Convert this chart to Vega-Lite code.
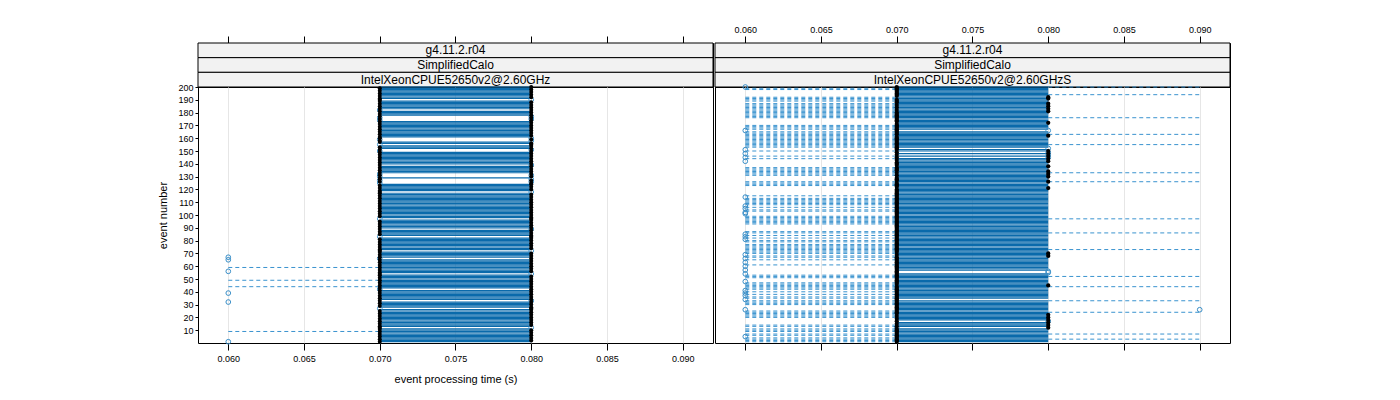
{
"$schema": "https://vega.github.io/schema/vega-lite/v6.json",
"padding": {"left": 157, "top": 24, "right": 5, "bottom": 5},
"background": "white",
"spacing": 0,
"datasets": {
"strA": [{"lev":1,"t":"g4.11.2.r04"},{"lev":2,"t":"SimplifiedCalo"},{"lev":3,"t":"IntelXeonCPUE52650v2@2.60GHz"}],
"strB": [{"lev":1,"t":"g4.11.2.r04"},{"lev":2,"t":"SimplifiedCalo"},{"lev":3,"t":"IntelXeonCPUE52650v2@2.60GHzS"}],
"a": [
{"e":1,"lo":0.07,"q1":0.07,"md":0.07,"q3":0.08,"hi":0.08,"o":0.06},
{"e":2,"lo":0.07,"q1":0.07,"md":0.08,"q3":0.08,"hi":0.08},
{"e":3,"lo":0.07,"q1":0.07,"md":0.07,"q3":0.08,"hi":0.08},
{"e":4,"lo":0.07,"q1":0.07,"md":0.08,"q3":0.08,"hi":0.08},
{"e":5,"lo":0.07,"q1":0.07,"md":0.07,"q3":0.08,"hi":0.08},
{"e":6,"lo":0.07,"q1":0.07,"md":0.08,"q3":0.08,"hi":0.08},
{"e":7,"lo":0.07,"q1":0.07,"md":0.07,"q3":0.08,"hi":0.08},
{"e":8,"lo":0.07,"q1":0.07,"md":0.08,"q3":0.08,"hi":0.08},
{"e":9,"lo":0.06,"q1":0.07,"md":0.07,"q3":0.08,"hi":0.08},
{"e":10,"lo":0.07,"q1":0.07,"md":0.08,"q3":0.08,"hi":0.08},
{"e":11,"lo":0.07,"q1":0.07,"md":0.07,"q3":0.08,"hi":0.08},
{"e":12,"lo":0.07,"q1":0.07,"md":0.07,"q3":0.07,"hi":0.07,"o":0.08},
{"e":13,"lo":0.07,"q1":0.07,"md":0.07,"q3":0.08,"hi":0.08},
{"e":14,"lo":0.07,"q1":0.07,"md":0.08,"q3":0.08,"hi":0.08},
{"e":15,"lo":0.07,"q1":0.07,"md":0.07,"q3":0.08,"hi":0.08},
{"e":16,"lo":0.07,"q1":0.07,"md":0.08,"q3":0.08,"hi":0.08},
{"e":17,"lo":0.07,"q1":0.07,"md":0.07,"q3":0.08,"hi":0.08},
{"e":18,"lo":0.07,"q1":0.07,"md":0.08,"q3":0.08,"hi":0.08},
{"e":19,"lo":0.07,"q1":0.07,"md":0.07,"q3":0.08,"hi":0.08},
{"e":20,"lo":0.07,"q1":0.07,"md":0.08,"q3":0.08,"hi":0.08},
{"e":21,"lo":0.07,"q1":0.07,"md":0.07,"q3":0.08,"hi":0.08},
{"e":22,"lo":0.07,"q1":0.07,"md":0.08,"q3":0.08,"hi":0.08},
{"e":23,"lo":0.07,"q1":0.07,"md":0.07,"q3":0.08,"hi":0.08},
{"e":24,"lo":0.07,"q1":0.07,"md":0.08,"q3":0.08,"hi":0.08},
{"e":25,"lo":0.07,"q1":0.07,"md":0.07,"q3":0.08,"hi":0.08},
{"e":26,"lo":0.07,"q1":0.07,"md":0.08,"q3":0.08,"hi":0.08},
{"e":27,"lo":0.08,"q1":0.08,"md":0.08,"q3":0.08,"hi":0.08,"o":0.07},
{"e":28,"lo":0.07,"q1":0.07,"md":0.08,"q3":0.08,"hi":0.08},
{"e":29,"lo":0.07,"q1":0.07,"md":0.07,"q3":0.08,"hi":0.08},
{"e":30,"lo":0.07,"q1":0.07,"md":0.08,"q3":0.08,"hi":0.08},
{"e":31,"lo":0.07,"q1":0.07,"md":0.07,"q3":0.08,"hi":0.08},
{"e":32,"lo":0.07,"q1":0.07,"md":0.08,"q3":0.08,"hi":0.08,"o":0.06},
{"e":33,"lo":0.07,"q1":0.07,"md":0.07,"q3":0.07,"hi":0.07,"o":0.08},
{"e":34,"lo":0.07,"q1":0.07,"md":0.08,"q3":0.08,"hi":0.08},
{"e":35,"lo":0.07,"q1":0.07,"md":0.07,"q3":0.08,"hi":0.08},
{"e":36,"lo":0.07,"q1":0.07,"md":0.08,"q3":0.08,"hi":0.08},
{"e":37,"lo":0.07,"q1":0.07,"md":0.07,"q3":0.08,"hi":0.08},
{"e":38,"lo":0.07,"q1":0.07,"md":0.08,"q3":0.08,"hi":0.08},
{"e":39,"lo":0.07,"q1":0.07,"md":0.07,"q3":0.08,"hi":0.08,"o":0.06},
{"e":40,"lo":0.07,"q1":0.07,"md":0.08,"q3":0.08,"hi":0.08},
{"e":41,"lo":0.07,"q1":0.07,"md":0.07,"q3":0.08,"hi":0.08},
{"e":42,"lo":0.08,"q1":0.08,"md":0.08,"q3":0.08,"hi":0.08,"o":0.07},
{"e":43,"lo":0.07,"q1":0.07,"md":0.07,"q3":0.08,"hi":0.08},
{"e":44,"lo":0.06,"q1":0.07,"md":0.08,"q3":0.08,"hi":0.08},
{"e":45,"lo":0.07,"q1":0.07,"md":0.07,"q3":0.08,"hi":0.08},
{"e":46,"lo":0.07,"q1":0.07,"md":0.08,"q3":0.08,"hi":0.08},
{"e":47,"lo":0.07,"q1":0.07,"md":0.07,"q3":0.08,"hi":0.08},
{"e":48,"lo":0.07,"q1":0.07,"md":0.08,"q3":0.08,"hi":0.08},
{"e":49,"lo":0.06,"q1":0.07,"md":0.07,"q3":0.08,"hi":0.08},
{"e":50,"lo":0.07,"q1":0.07,"md":0.08,"q3":0.08,"hi":0.08},
{"e":51,"lo":0.07,"q1":0.07,"md":0.07,"q3":0.08,"hi":0.08},
{"e":52,"lo":0.07,"q1":0.07,"md":0.08,"q3":0.08,"hi":0.08},
{"e":53,"lo":0.07,"q1":0.07,"md":0.07,"q3":0.08,"hi":0.08},
{"e":54,"lo":0.07,"q1":0.07,"md":0.07,"q3":0.07,"hi":0.07,"o":0.08},
{"e":55,"lo":0.07,"q1":0.07,"md":0.07,"q3":0.08,"hi":0.08},
{"e":56,"lo":0.07,"q1":0.07,"md":0.08,"q3":0.08,"hi":0.08,"o":0.06},
{"e":57,"lo":0.07,"q1":0.07,"md":0.07,"q3":0.08,"hi":0.08},
{"e":58,"lo":0.07,"q1":0.07,"md":0.08,"q3":0.08,"hi":0.08},
{"e":59,"lo":0.06,"q1":0.07,"md":0.07,"q3":0.08,"hi":0.08},
{"e":60,"lo":0.07,"q1":0.07,"md":0.08,"q3":0.08,"hi":0.08},
{"e":61,"lo":0.07,"q1":0.07,"md":0.07,"q3":0.08,"hi":0.08},
{"e":62,"lo":0.07,"q1":0.07,"md":0.08,"q3":0.08,"hi":0.08},
{"e":63,"lo":0.07,"q1":0.07,"md":0.07,"q3":0.08,"hi":0.08},
{"e":64,"lo":0.07,"q1":0.07,"md":0.08,"q3":0.08,"hi":0.08},
{"e":65,"lo":0.07,"q1":0.07,"md":0.07,"q3":0.08,"hi":0.08,"o":0.06},
{"e":66,"lo":0.08,"q1":0.08,"md":0.08,"q3":0.08,"hi":0.08,"o":0.07},
{"e":67,"lo":0.07,"q1":0.07,"md":0.07,"q3":0.08,"hi":0.08,"o":0.06},
{"e":68,"lo":0.07,"q1":0.07,"md":0.08,"q3":0.08,"hi":0.08},
{"e":69,"lo":0.07,"q1":0.07,"md":0.07,"q3":0.08,"hi":0.08},
{"e":70,"lo":0.07,"q1":0.07,"md":0.08,"q3":0.08,"hi":0.08},
{"e":71,"lo":0.07,"q1":0.07,"md":0.07,"q3":0.08,"hi":0.08},
{"e":72,"lo":0.07,"q1":0.07,"md":0.07,"q3":0.07,"hi":0.07,"o":0.08},
{"e":73,"lo":0.07,"q1":0.07,"md":0.07,"q3":0.08,"hi":0.08},
{"e":74,"lo":0.07,"q1":0.07,"md":0.08,"q3":0.08,"hi":0.08},
{"e":75,"lo":0.07,"q1":0.07,"md":0.07,"q3":0.08,"hi":0.08},
{"e":76,"lo":0.07,"q1":0.07,"md":0.08,"q3":0.08,"hi":0.08},
{"e":77,"lo":0.07,"q1":0.07,"md":0.07,"q3":0.08,"hi":0.08},
{"e":78,"lo":0.07,"q1":0.07,"md":0.08,"q3":0.08,"hi":0.08},
{"e":79,"lo":0.07,"q1":0.07,"md":0.07,"q3":0.08,"hi":0.08},
{"e":80,"lo":0.07,"q1":0.07,"md":0.08,"q3":0.08,"hi":0.08},
{"e":81,"lo":0.07,"q1":0.07,"md":0.07,"q3":0.08,"hi":0.08},
{"e":82,"lo":0.07,"q1":0.07,"md":0.08,"q3":0.08,"hi":0.08},
{"e":83,"lo":0.08,"q1":0.08,"md":0.08,"q3":0.08,"hi":0.08,"o":0.07},
{"e":84,"lo":0.07,"q1":0.07,"md":0.08,"q3":0.08,"hi":0.08},
{"e":85,"lo":0.07,"q1":0.07,"md":0.07,"q3":0.08,"hi":0.08},
{"e":86,"lo":0.07,"q1":0.07,"md":0.08,"q3":0.08,"hi":0.08},
{"e":87,"lo":0.07,"q1":0.07,"md":0.07,"q3":0.08,"hi":0.08},
{"e":88,"lo":0.07,"q1":0.07,"md":0.08,"q3":0.08,"hi":0.08},
{"e":89,"lo":0.07,"q1":0.07,"md":0.07,"q3":0.07,"hi":0.07,"o":0.08},
{"e":90,"lo":0.07,"q1":0.07,"md":0.08,"q3":0.08,"hi":0.08},
{"e":91,"lo":0.07,"q1":0.07,"md":0.07,"q3":0.08,"hi":0.08},
{"e":92,"lo":0.07,"q1":0.07,"md":0.08,"q3":0.08,"hi":0.08},
{"e":93,"lo":0.07,"q1":0.07,"md":0.07,"q3":0.08,"hi":0.08},
{"e":94,"lo":0.07,"q1":0.07,"md":0.08,"q3":0.08,"hi":0.08},
{"e":95,"lo":0.07,"q1":0.07,"md":0.07,"q3":0.08,"hi":0.08},
{"e":96,"lo":0.07,"q1":0.07,"md":0.08,"q3":0.08,"hi":0.08},
{"e":97,"lo":0.08,"q1":0.08,"md":0.08,"q3":0.08,"hi":0.08,"o":0.07},
{"e":98,"lo":0.07,"q1":0.07,"md":0.08,"q3":0.08,"hi":0.08},
{"e":99,"lo":0.07,"q1":0.07,"md":0.07,"q3":0.08,"hi":0.08},
{"e":100,"lo":0.07,"q1":0.07,"md":0.08,"q3":0.08,"hi":0.08},
{"e":101,"lo":0.07,"q1":0.07,"md":0.07,"q3":0.08,"hi":0.08},
{"e":102,"lo":0.07,"q1":0.07,"md":0.08,"q3":0.08,"hi":0.08},
{"e":103,"lo":0.07,"q1":0.07,"md":0.07,"q3":0.08,"hi":0.08},
{"e":104,"lo":0.07,"q1":0.07,"md":0.08,"q3":0.08,"hi":0.08},
{"e":105,"lo":0.07,"q1":0.07,"md":0.07,"q3":0.08,"hi":0.08},
{"e":106,"lo":0.07,"q1":0.07,"md":0.08,"q3":0.08,"hi":0.08},
{"e":107,"lo":0.07,"q1":0.07,"md":0.07,"q3":0.08,"hi":0.08},
{"e":108,"lo":0.07,"q1":0.07,"md":0.08,"q3":0.08,"hi":0.08},
{"e":109,"lo":0.07,"q1":0.07,"md":0.07,"q3":0.08,"hi":0.08},
{"e":110,"lo":0.07,"q1":0.07,"md":0.08,"q3":0.08,"hi":0.08},
{"e":111,"lo":0.07,"q1":0.07,"md":0.07,"q3":0.08,"hi":0.08},
{"e":112,"lo":0.07,"q1":0.07,"md":0.08,"q3":0.08,"hi":0.08},
{"e":113,"lo":0.07,"q1":0.07,"md":0.07,"q3":0.08,"hi":0.08},
{"e":114,"lo":0.07,"q1":0.07,"md":0.08,"q3":0.08,"hi":0.08},
{"e":115,"lo":0.07,"q1":0.07,"md":0.07,"q3":0.08,"hi":0.08},
{"e":116,"lo":0.07,"q1":0.07,"md":0.08,"q3":0.08,"hi":0.08},
{"e":117,"lo":0.07,"q1":0.07,"md":0.07,"q3":0.08,"hi":0.08},
{"e":118,"lo":0.07,"q1":0.07,"md":0.07,"q3":0.07,"hi":0.07,"o":0.08},
{"e":119,"lo":0.07,"q1":0.07,"md":0.07,"q3":0.08,"hi":0.08},
{"e":120,"lo":0.07,"q1":0.07,"md":0.08,"q3":0.08,"hi":0.08},
{"e":121,"lo":0.07,"q1":0.07,"md":0.07,"q3":0.08,"hi":0.08},
{"e":122,"lo":0.07,"q1":0.07,"md":0.08,"q3":0.08,"hi":0.08},
{"e":123,"lo":0.07,"q1":0.07,"md":0.07,"q3":0.08,"hi":0.08},
{"e":124,"lo":0.07,"q1":0.07,"md":0.08,"q3":0.08,"hi":0.08},
{"e":125,"lo":0.08,"q1":0.08,"md":0.08,"q3":0.08,"hi":0.08,"o":0.07},
{"e":126,"lo":0.07,"q1":0.07,"md":0.07,"q3":0.07,"hi":0.07,"o":0.08},
{"e":127,"lo":0.08,"q1":0.08,"md":0.08,"q3":0.08,"hi":0.08,"o":0.07},
{"e":128,"lo":0.07,"q1":0.07,"md":0.07,"q3":0.07,"hi":0.07,"o":0.08},
{"e":129,"lo":0.07,"q1":0.07,"md":0.07,"q3":0.08,"hi":0.08},
{"e":130,"lo":0.08,"q1":0.08,"md":0.08,"q3":0.08,"hi":0.08,"o":0.07},
{"e":131,"lo":0.07,"q1":0.07,"md":0.07,"q3":0.07,"hi":0.07,"o":0.08},
{"e":132,"lo":0.08,"q1":0.08,"md":0.08,"q3":0.08,"hi":0.08,"o":0.07},
{"e":133,"lo":0.07,"q1":0.07,"md":0.07,"q3":0.08,"hi":0.08},
{"e":134,"lo":0.07,"q1":0.07,"md":0.08,"q3":0.08,"hi":0.08},
{"e":135,"lo":0.07,"q1":0.07,"md":0.07,"q3":0.08,"hi":0.08},
{"e":136,"lo":0.07,"q1":0.07,"md":0.08,"q3":0.08,"hi":0.08},
{"e":137,"lo":0.07,"q1":0.07,"md":0.07,"q3":0.08,"hi":0.08},
{"e":138,"lo":0.07,"q1":0.07,"md":0.08,"q3":0.08,"hi":0.08},
{"e":139,"lo":0.07,"q1":0.07,"md":0.07,"q3":0.07,"hi":0.07,"o":0.08},
{"e":140,"lo":0.07,"q1":0.07,"md":0.08,"q3":0.08,"hi":0.08},
{"e":141,"lo":0.07,"q1":0.07,"md":0.07,"q3":0.08,"hi":0.08},
{"e":142,"lo":0.07,"q1":0.07,"md":0.08,"q3":0.08,"hi":0.08},
{"e":143,"lo":0.07,"q1":0.07,"md":0.07,"q3":0.08,"hi":0.08},
{"e":144,"lo":0.07,"q1":0.07,"md":0.08,"q3":0.08,"hi":0.08},
{"e":145,"lo":0.07,"q1":0.07,"md":0.07,"q3":0.08,"hi":0.08},
{"e":146,"lo":0.07,"q1":0.07,"md":0.08,"q3":0.08,"hi":0.08},
{"e":147,"lo":0.07,"q1":0.07,"md":0.07,"q3":0.08,"hi":0.08},
{"e":148,"lo":0.07,"q1":0.07,"md":0.08,"q3":0.08,"hi":0.08},
{"e":149,"lo":0.07,"q1":0.07,"md":0.07,"q3":0.08,"hi":0.08},
{"e":150,"lo":0.08,"q1":0.08,"md":0.08,"q3":0.08,"hi":0.08,"o":0.07},
{"e":151,"lo":0.07,"q1":0.07,"md":0.07,"q3":0.07,"hi":0.07,"o":0.08},
{"e":152,"lo":0.07,"q1":0.07,"md":0.08,"q3":0.08,"hi":0.08},
{"e":153,"lo":0.07,"q1":0.07,"md":0.07,"q3":0.08,"hi":0.08},
{"e":154,"lo":0.07,"q1":0.07,"md":0.08,"q3":0.08,"hi":0.08},
{"e":155,"lo":0.08,"q1":0.08,"md":0.08,"q3":0.08,"hi":0.08,"o":0.07},
{"e":156,"lo":0.07,"q1":0.07,"md":0.08,"q3":0.08,"hi":0.08},
{"e":157,"lo":0.07,"q1":0.07,"md":0.07,"q3":0.08,"hi":0.08},
{"e":158,"lo":0.07,"q1":0.07,"md":0.07,"q3":0.07,"hi":0.07,"o":0.08},
{"e":159,"lo":0.08,"q1":0.08,"md":0.08,"q3":0.08,"hi":0.08,"o":0.07},
{"e":160,"lo":0.07,"q1":0.07,"md":0.07,"q3":0.07,"hi":0.07,"o":0.08},
{"e":161,"lo":0.07,"q1":0.07,"md":0.07,"q3":0.08,"hi":0.08},
{"e":162,"lo":0.07,"q1":0.07,"md":0.08,"q3":0.08,"hi":0.08},
{"e":163,"lo":0.07,"q1":0.07,"md":0.07,"q3":0.08,"hi":0.08},
{"e":164,"lo":0.07,"q1":0.07,"md":0.08,"q3":0.08,"hi":0.08},
{"e":165,"lo":0.07,"q1":0.07,"md":0.07,"q3":0.08,"hi":0.08},
{"e":166,"lo":0.07,"q1":0.07,"md":0.08,"q3":0.08,"hi":0.08},
{"e":167,"lo":0.07,"q1":0.07,"md":0.07,"q3":0.08,"hi":0.08},
{"e":168,"lo":0.07,"q1":0.07,"md":0.08,"q3":0.08,"hi":0.08},
{"e":169,"lo":0.07,"q1":0.07,"md":0.07,"q3":0.08,"hi":0.08},
{"e":170,"lo":0.07,"q1":0.07,"md":0.08,"q3":0.08,"hi":0.08},
{"e":171,"lo":0.07,"q1":0.07,"md":0.07,"q3":0.08,"hi":0.08},
{"e":172,"lo":0.07,"q1":0.07,"md":0.08,"q3":0.08,"hi":0.08},
{"e":173,"lo":0.07,"q1":0.07,"md":0.07,"q3":0.08,"hi":0.08},
{"e":174,"lo":0.08,"q1":0.08,"md":0.08,"q3":0.08,"hi":0.08,"o":0.07},
{"e":175,"lo":0.07,"q1":0.07,"md":0.07,"q3":0.07,"hi":0.07,"o":0.08},
{"e":176,"lo":0.08,"q1":0.08,"md":0.08,"q3":0.08,"hi":0.08,"o":0.07},
{"e":177,"lo":0.07,"q1":0.07,"md":0.07,"q3":0.07,"hi":0.07,"o":0.08},
{"e":178,"lo":0.07,"q1":0.07,"md":0.08,"q3":0.08,"hi":0.08},
{"e":179,"lo":0.07,"q1":0.07,"md":0.07,"q3":0.08,"hi":0.08},
{"e":180,"lo":0.07,"q1":0.07,"md":0.08,"q3":0.08,"hi":0.08},
{"e":181,"lo":0.07,"q1":0.07,"md":0.07,"q3":0.08,"hi":0.08},
{"e":182,"lo":0.08,"q1":0.08,"md":0.08,"q3":0.08,"hi":0.08,"o":0.07},
{"e":183,"lo":0.07,"q1":0.07,"md":0.07,"q3":0.08,"hi":0.08},
{"e":184,"lo":0.07,"q1":0.07,"md":0.08,"q3":0.08,"hi":0.08},
{"e":185,"lo":0.07,"q1":0.07,"md":0.07,"q3":0.08,"hi":0.08},
{"e":186,"lo":0.07,"q1":0.07,"md":0.08,"q3":0.08,"hi":0.08},
{"e":187,"lo":0.07,"q1":0.07,"md":0.07,"q3":0.08,"hi":0.08},
{"e":188,"lo":0.07,"q1":0.07,"md":0.08,"q3":0.08,"hi":0.08},
{"e":189,"lo":0.07,"q1":0.07,"md":0.07,"q3":0.08,"hi":0.08},
{"e":190,"lo":0.07,"q1":0.07,"md":0.07,"q3":0.07,"hi":0.07,"o":0.08},
{"e":191,"lo":0.07,"q1":0.07,"md":0.07,"q3":0.08,"hi":0.08},
{"e":192,"lo":0.07,"q1":0.07,"md":0.08,"q3":0.08,"hi":0.08},
{"e":193,"lo":0.07,"q1":0.07,"md":0.07,"q3":0.08,"hi":0.08},
{"e":194,"lo":0.07,"q1":0.07,"md":0.08,"q3":0.08,"hi":0.08},
{"e":195,"lo":0.07,"q1":0.07,"md":0.07,"q3":0.08,"hi":0.08},
{"e":196,"lo":0.07,"q1":0.07,"md":0.08,"q3":0.08,"hi":0.08},
{"e":197,"lo":0.07,"q1":0.07,"md":0.07,"q3":0.08,"hi":0.08},
{"e":198,"lo":0.07,"q1":0.07,"md":0.08,"q3":0.08,"hi":0.08},
{"e":199,"lo":0.07,"q1":0.07,"md":0.07,"q3":0.08,"hi":0.08},
{"e":200,"lo":0.07,"q1":0.07,"md":0.08,"q3":0.08,"hi":0.08}
],
"b": [
{"e":1,"lo":0.06,"q1":0.07,"md":0.07,"q3":0.08,"hi":0.08},
{"e":2,"lo":0.06,"q1":0.07,"md":0.07,"q3":0.08,"hi":0.08},
{"e":3,"lo":0.06,"q1":0.07,"md":0.07,"q3":0.08,"hi":0.09},
{"e":4,"lo":0.06,"q1":0.07,"md":0.07,"q3":0.08,"hi":0.08},
{"e":5,"lo":0.07,"q1":0.07,"md":0.07,"q3":0.08,"hi":0.08,"o":0.06},
{"e":6,"lo":0.06,"q1":0.07,"md":0.07,"q3":0.08,"hi":0.08},
{"e":7,"lo":0.06,"q1":0.07,"md":0.07,"q3":0.08,"hi":0.09},
{"e":8,"lo":0.07,"q1":0.07,"md":0.07,"q3":0.08,"hi":0.08},
{"e":9,"lo":0.06,"q1":0.07,"md":0.07,"q3":0.08,"hi":0.08},
{"e":10,"lo":0.06,"q1":0.07,"md":0.07,"q3":0.08,"hi":0.08},
{"e":11,"lo":0.06,"q1":0.07,"md":0.07,"q3":0.08,"hi":0.08},
{"e":12,"lo":0.08,"q1":0.08,"md":0.08,"q3":0.08,"hi":0.08,"o":0.07},
{"e":13,"lo":0.06,"q1":0.07,"md":0.07,"q3":0.08,"hi":0.08},
{"e":14,"lo":0.06,"q1":0.07,"md":0.08,"q3":0.08,"hi":0.08},
{"e":15,"lo":0.07,"q1":0.07,"md":0.07,"q3":0.08,"hi":0.08},
{"e":16,"lo":0.07,"q1":0.07,"md":0.08,"q3":0.08,"hi":0.08},
{"e":17,"lo":0.07,"q1":0.07,"md":0.07,"q3":0.07,"hi":0.07,"o":0.08},
{"e":18,"lo":0.07,"q1":0.07,"md":0.08,"q3":0.08,"hi":0.08},
{"e":19,"lo":0.07,"q1":0.07,"md":0.07,"q3":0.08,"hi":0.08},
{"e":20,"lo":0.06,"q1":0.07,"md":0.08,"q3":0.08,"hi":0.08},
{"e":21,"lo":0.06,"q1":0.07,"md":0.07,"q3":0.08,"hi":0.08},
{"e":22,"lo":0.06,"q1":0.07,"md":0.08,"q3":0.08,"hi":0.08},
{"e":23,"lo":0.06,"q1":0.07,"md":0.07,"q3":0.08,"hi":0.08},
{"e":24,"lo":0.06,"q1":0.07,"md":0.07,"q3":0.08,"hi":0.09},
{"e":25,"lo":0.06,"q1":0.07,"md":0.07,"q3":0.08,"hi":0.08},
{"e":26,"lo":0.07,"q1":0.07,"md":0.07,"q3":0.08,"hi":0.08,"o":0.06,"o2":0.09},
{"e":27,"lo":0.07,"q1":0.07,"md":0.07,"q3":0.08,"hi":0.08},
{"e":28,"lo":0.07,"q1":0.07,"md":0.07,"q3":0.08,"hi":0.08},
{"e":29,"lo":0.07,"q1":0.07,"md":0.07,"q3":0.08,"hi":0.08},
{"e":30,"lo":0.06,"q1":0.07,"md":0.07,"q3":0.08,"hi":0.08},
{"e":31,"lo":0.06,"q1":0.07,"md":0.07,"q3":0.08,"hi":0.08},
{"e":32,"lo":0.06,"q1":0.07,"md":0.07,"q3":0.08,"hi":0.08},
{"e":33,"lo":0.06,"q1":0.07,"md":0.07,"q3":0.08,"hi":0.09},
{"e":34,"lo":0.07,"q1":0.07,"md":0.07,"q3":0.07,"hi":0.07,"o":0.06},
{"e":35,"lo":0.06,"q1":0.07,"md":0.07,"q3":0.08,"hi":0.08},
{"e":36,"lo":0.06,"q1":0.07,"md":0.07,"q3":0.08,"hi":0.08},
{"e":37,"lo":0.07,"q1":0.07,"md":0.07,"q3":0.08,"hi":0.08,"o":0.06},
{"e":38,"lo":0.06,"q1":0.07,"md":0.07,"q3":0.08,"hi":0.08},
{"e":39,"lo":0.07,"q1":0.07,"md":0.07,"q3":0.08,"hi":0.08,"o":0.06},
{"e":40,"lo":0.06,"q1":0.07,"md":0.07,"q3":0.08,"hi":0.08},
{"e":41,"lo":0.07,"q1":0.07,"md":0.07,"q3":0.08,"hi":0.08,"o":0.06},
{"e":42,"lo":0.06,"q1":0.07,"md":0.07,"q3":0.08,"hi":0.08},
{"e":43,"lo":0.06,"q1":0.07,"md":0.07,"q3":0.08,"hi":0.08},
{"e":44,"lo":0.06,"q1":0.07,"md":0.07,"q3":0.08,"hi":0.09},
{"e":45,"lo":0.06,"q1":0.07,"md":0.08,"q3":0.08,"hi":0.08},
{"e":46,"lo":0.06,"q1":0.07,"md":0.07,"q3":0.08,"hi":0.08},
{"e":47,"lo":0.06,"q1":0.07,"md":0.07,"q3":0.08,"hi":0.08},
{"e":48,"lo":0.07,"q1":0.07,"md":0.07,"q3":0.08,"hi":0.08,"o":0.06},
{"e":49,"lo":0.07,"q1":0.07,"md":0.07,"q3":0.08,"hi":0.08},
{"e":50,"lo":0.07,"q1":0.07,"md":0.07,"q3":0.08,"hi":0.08},
{"e":51,"lo":0.06,"q1":0.07,"md":0.07,"q3":0.08,"hi":0.08},
{"e":52,"lo":0.06,"q1":0.07,"md":0.07,"q3":0.08,"hi":0.09},
{"e":53,"lo":0.06,"q1":0.07,"md":0.07,"q3":0.08,"hi":0.08},
{"e":54,"lo":0.07,"q1":0.07,"md":0.07,"q3":0.08,"hi":0.08,"o":0.06},
{"e":55,"lo":0.07,"q1":0.07,"md":0.07,"q3":0.07,"hi":0.07,"o":0.08},
{"e":56,"lo":0.07,"q1":0.07,"md":0.07,"q3":0.07,"hi":0.07,"o":0.08},
{"e":57,"lo":0.07,"q1":0.07,"md":0.07,"q3":0.08,"hi":0.08,"o":0.06},
{"e":58,"lo":0.07,"q1":0.07,"md":0.07,"q3":0.08,"hi":0.08},
{"e":59,"lo":0.07,"q1":0.07,"md":0.07,"q3":0.08,"hi":0.08},
{"e":60,"lo":0.07,"q1":0.07,"md":0.07,"q3":0.08,"hi":0.08,"o":0.06},
{"e":61,"lo":0.06,"q1":0.07,"md":0.07,"q3":0.08,"hi":0.08},
{"e":62,"lo":0.07,"q1":0.07,"md":0.07,"q3":0.08,"hi":0.08},
{"e":63,"lo":0.07,"q1":0.07,"md":0.07,"q3":0.08,"hi":0.08,"o":0.06},
{"e":64,"lo":0.07,"q1":0.07,"md":0.07,"q3":0.08,"hi":0.08},
{"e":65,"lo":0.06,"q1":0.07,"md":0.07,"q3":0.08,"hi":0.08},
{"e":66,"lo":0.07,"q1":0.07,"md":0.07,"q3":0.08,"hi":0.08,"o":0.06},
{"e":67,"lo":0.06,"q1":0.07,"md":0.07,"q3":0.08,"hi":0.08},
{"e":68,"lo":0.06,"q1":0.07,"md":0.08,"q3":0.08,"hi":0.08},
{"e":69,"lo":0.07,"q1":0.07,"md":0.07,"q3":0.08,"hi":0.08,"o":0.06},
{"e":70,"lo":0.06,"q1":0.07,"md":0.08,"q3":0.08,"hi":0.08},
{"e":71,"lo":0.06,"q1":0.07,"md":0.07,"q3":0.08,"hi":0.08},
{"e":72,"lo":0.06,"q1":0.07,"md":0.07,"q3":0.08,"hi":0.08},
{"e":73,"lo":0.06,"q1":0.07,"md":0.07,"q3":0.08,"hi":0.09},
{"e":74,"lo":0.06,"q1":0.07,"md":0.07,"q3":0.08,"hi":0.08},
{"e":75,"lo":0.06,"q1":0.07,"md":0.07,"q3":0.08,"hi":0.08},
{"e":76,"lo":0.06,"q1":0.07,"md":0.07,"q3":0.08,"hi":0.08},
{"e":77,"lo":0.06,"q1":0.07,"md":0.07,"q3":0.08,"hi":0.08},
{"e":78,"lo":0.07,"q1":0.07,"md":0.07,"q3":0.08,"hi":0.08},
{"e":79,"lo":0.06,"q1":0.07,"md":0.07,"q3":0.08,"hi":0.08},
{"e":80,"lo":0.06,"q1":0.07,"md":0.07,"q3":0.08,"hi":0.08},
{"e":81,"lo":0.07,"q1":0.07,"md":0.07,"q3":0.08,"hi":0.08,"o":0.06},
{"e":82,"lo":0.06,"q1":0.07,"md":0.07,"q3":0.08,"hi":0.08},
{"e":83,"lo":0.07,"q1":0.07,"md":0.07,"q3":0.08,"hi":0.08,"o":0.06},
{"e":84,"lo":0.06,"q1":0.07,"md":0.07,"q3":0.08,"hi":0.08},
{"e":85,"lo":0.07,"q1":0.07,"md":0.07,"q3":0.08,"hi":0.08,"o":0.06},
{"e":86,"lo":0.06,"q1":0.07,"md":0.07,"q3":0.08,"hi":0.09},
{"e":87,"lo":0.06,"q1":0.07,"md":0.07,"q3":0.08,"hi":0.08},
{"e":88,"lo":0.07,"q1":0.07,"md":0.07,"q3":0.08,"hi":0.08},
{"e":89,"lo":0.07,"q1":0.07,"md":0.07,"q3":0.08,"hi":0.08},
{"e":90,"lo":0.07,"q1":0.07,"md":0.07,"q3":0.08,"hi":0.08},
{"e":91,"lo":0.07,"q1":0.07,"md":0.07,"q3":0.08,"hi":0.08},
{"e":92,"lo":0.07,"q1":0.07,"md":0.07,"q3":0.08,"hi":0.08},
{"e":93,"lo":0.06,"q1":0.07,"md":0.07,"q3":0.08,"hi":0.08},
{"e":94,"lo":0.06,"q1":0.07,"md":0.07,"q3":0.08,"hi":0.08},
{"e":95,"lo":0.06,"q1":0.07,"md":0.07,"q3":0.08,"hi":0.08},
{"e":96,"lo":0.06,"q1":0.07,"md":0.07,"q3":0.08,"hi":0.08},
{"e":97,"lo":0.06,"q1":0.07,"md":0.07,"q3":0.08,"hi":0.09},
{"e":98,"lo":0.06,"q1":0.07,"md":0.07,"q3":0.08,"hi":0.08},
{"e":99,"lo":0.06,"q1":0.07,"md":0.07,"q3":0.08,"hi":0.08},
{"e":100,"lo":0.07,"q1":0.07,"md":0.07,"q3":0.08,"hi":0.08},
{"e":101,"lo":0.07,"q1":0.07,"md":0.07,"q3":0.08,"hi":0.08,"o":0.06},
{"e":102,"lo":0.07,"q1":0.07,"md":0.07,"q3":0.08,"hi":0.08,"o":0.06},
{"e":103,"lo":0.06,"q1":0.07,"md":0.07,"q3":0.08,"hi":0.08},
{"e":104,"lo":0.06,"q1":0.07,"md":0.07,"q3":0.08,"hi":0.08},
{"e":105,"lo":0.07,"q1":0.07,"md":0.07,"q3":0.08,"hi":0.08,"o":0.06},
{"e":106,"lo":0.06,"q1":0.07,"md":0.07,"q3":0.08,"hi":0.08},
{"e":107,"lo":0.07,"q1":0.07,"md":0.07,"q3":0.08,"hi":0.08,"o":0.06},
{"e":108,"lo":0.06,"q1":0.07,"md":0.07,"q3":0.08,"hi":0.08},
{"e":109,"lo":0.06,"q1":0.07,"md":0.07,"q3":0.08,"hi":0.08},
{"e":110,"lo":0.06,"q1":0.07,"md":0.07,"q3":0.08,"hi":0.08},
{"e":111,"lo":0.06,"q1":0.07,"md":0.07,"q3":0.08,"hi":0.08},
{"e":112,"lo":0.06,"q1":0.07,"md":0.07,"q3":0.08,"hi":0.08},
{"e":113,"lo":0.06,"q1":0.07,"md":0.07,"q3":0.08,"hi":0.08},
{"e":114,"lo":0.07,"q1":0.07,"md":0.07,"q3":0.08,"hi":0.08,"o":0.06},
{"e":115,"lo":0.06,"q1":0.07,"md":0.07,"q3":0.08,"hi":0.08},
{"e":116,"lo":0.07,"q1":0.07,"md":0.07,"q3":0.08,"hi":0.08},
{"e":117,"lo":0.07,"q1":0.07,"md":0.07,"q3":0.08,"hi":0.08},
{"e":118,"lo":0.07,"q1":0.07,"md":0.07,"q3":0.08,"hi":0.08},
{"e":119,"lo":0.07,"q1":0.07,"md":0.07,"q3":0.08,"hi":0.08},
{"e":120,"lo":0.07,"q1":0.07,"md":0.07,"q3":0.08,"hi":0.08},
{"e":121,"lo":0.07,"q1":0.07,"md":0.08,"q3":0.08,"hi":0.08},
{"e":122,"lo":0.07,"q1":0.07,"md":0.07,"q3":0.08,"hi":0.08},
{"e":123,"lo":0.06,"q1":0.07,"md":0.07,"q3":0.08,"hi":0.08},
{"e":124,"lo":0.06,"q1":0.07,"md":0.07,"q3":0.08,"hi":0.08},
{"e":125,"lo":0.06,"q1":0.07,"md":0.07,"q3":0.08,"hi":0.08},
{"e":126,"lo":0.06,"q1":0.07,"md":0.08,"q3":0.08,"hi":0.09},
{"e":127,"lo":0.07,"q1":0.07,"md":0.07,"q3":0.08,"hi":0.08},
{"e":128,"lo":0.07,"q1":0.07,"md":0.07,"q3":0.08,"hi":0.08},
{"e":129,"lo":0.07,"q1":0.07,"md":0.07,"q3":0.08,"hi":0.08},
{"e":130,"lo":0.07,"q1":0.07,"md":0.08,"q3":0.08,"hi":0.08},
{"e":131,"lo":0.06,"q1":0.07,"md":0.07,"q3":0.08,"hi":0.08},
{"e":132,"lo":0.06,"q1":0.07,"md":0.08,"q3":0.08,"hi":0.08},
{"e":133,"lo":0.06,"q1":0.07,"md":0.07,"q3":0.08,"hi":0.09},
{"e":134,"lo":0.06,"q1":0.07,"md":0.08,"q3":0.08,"hi":0.08},
{"e":135,"lo":0.06,"q1":0.07,"md":0.07,"q3":0.08,"hi":0.08},
{"e":136,"lo":0.06,"q1":0.07,"md":0.07,"q3":0.08,"hi":0.08},
{"e":137,"lo":0.06,"q1":0.07,"md":0.07,"q3":0.08,"hi":0.08},
{"e":138,"lo":0.07,"q1":0.07,"md":0.08,"q3":0.08,"hi":0.08},
{"e":139,"lo":0.07,"q1":0.07,"md":0.07,"q3":0.08,"hi":0.08},
{"e":140,"lo":0.07,"q1":0.07,"md":0.07,"q3":0.08,"hi":0.08},
{"e":141,"lo":0.07,"q1":0.07,"md":0.07,"q3":0.08,"hi":0.08},
{"e":142,"lo":0.07,"q1":0.07,"md":0.08,"q3":0.08,"hi":0.08,"o":0.06},
{"e":143,"lo":0.07,"q1":0.07,"md":0.07,"q3":0.08,"hi":0.08},
{"e":144,"lo":0.06,"q1":0.07,"md":0.08,"q3":0.08,"hi":0.08},
{"e":145,"lo":0.07,"q1":0.07,"md":0.07,"q3":0.07,"hi":0.07,"o":0.06,"o2":0.08},
{"e":146,"lo":0.06,"q1":0.07,"md":0.08,"q3":0.08,"hi":0.08},
{"e":147,"lo":0.07,"q1":0.07,"md":0.07,"q3":0.07,"hi":0.07,"o":0.08},
{"e":148,"lo":0.07,"q1":0.07,"md":0.08,"q3":0.08,"hi":0.08,"o":0.06},
{"e":149,"lo":0.07,"q1":0.07,"md":0.07,"q3":0.07,"hi":0.07,"o":0.08},
{"e":150,"lo":0.06,"q1":0.07,"md":0.08,"q3":0.08,"hi":0.08},
{"e":151,"lo":0.07,"q1":0.07,"md":0.07,"q3":0.08,"hi":0.08,"o":0.06},
{"e":152,"lo":0.07,"q1":0.07,"md":0.07,"q3":0.07,"hi":0.07,"o":0.08},
{"e":153,"lo":0.06,"q1":0.07,"md":0.07,"q3":0.08,"hi":0.08},
{"e":154,"lo":0.06,"q1":0.07,"md":0.07,"q3":0.08,"hi":0.08},
{"e":155,"lo":0.06,"q1":0.07,"md":0.07,"q3":0.08,"hi":0.09},
{"e":156,"lo":0.06,"q1":0.07,"md":0.07,"q3":0.08,"hi":0.08},
{"e":157,"lo":0.06,"q1":0.07,"md":0.07,"q3":0.08,"hi":0.08},
{"e":158,"lo":0.06,"q1":0.07,"md":0.07,"q3":0.08,"hi":0.08},
{"e":159,"lo":0.06,"q1":0.07,"md":0.07,"q3":0.08,"hi":0.08},
{"e":160,"lo":0.06,"q1":0.07,"md":0.07,"q3":0.08,"hi":0.08},
{"e":161,"lo":0.06,"q1":0.07,"md":0.07,"q3":0.08,"hi":0.08},
{"e":162,"lo":0.06,"q1":0.07,"md":0.08,"q3":0.08,"hi":0.08},
{"e":163,"lo":0.06,"q1":0.07,"md":0.07,"q3":0.08,"hi":0.09},
{"e":164,"lo":0.06,"q1":0.07,"md":0.07,"q3":0.08,"hi":0.08},
{"e":165,"lo":0.06,"q1":0.07,"md":0.07,"q3":0.08,"hi":0.08},
{"e":166,"lo":0.07,"q1":0.07,"md":0.07,"q3":0.07,"hi":0.07,"o":0.06,"o2":0.08},
{"e":167,"lo":0.06,"q1":0.07,"md":0.07,"q3":0.08,"hi":0.08},
{"e":168,"lo":0.06,"q1":0.07,"md":0.07,"q3":0.08,"hi":0.08},
{"e":169,"lo":0.06,"q1":0.07,"md":0.07,"q3":0.08,"hi":0.08},
{"e":170,"lo":0.06,"q1":0.07,"md":0.07,"q3":0.08,"hi":0.08},
{"e":171,"lo":0.07,"q1":0.07,"md":0.07,"q3":0.08,"hi":0.08},
{"e":172,"lo":0.07,"q1":0.07,"md":0.08,"q3":0.08,"hi":0.08},
{"e":173,"lo":0.07,"q1":0.07,"md":0.07,"q3":0.08,"hi":0.08},
{"e":174,"lo":0.07,"q1":0.07,"md":0.07,"q3":0.08,"hi":0.08},
{"e":175,"lo":0.07,"q1":0.07,"md":0.07,"q3":0.08,"hi":0.08},
{"e":176,"lo":0.06,"q1":0.07,"md":0.07,"q3":0.08,"hi":0.09},
{"e":177,"lo":0.06,"q1":0.07,"md":0.07,"q3":0.08,"hi":0.08},
{"e":178,"lo":0.06,"q1":0.07,"md":0.07,"q3":0.08,"hi":0.08},
{"e":179,"lo":0.06,"q1":0.07,"md":0.07,"q3":0.08,"hi":0.08},
{"e":180,"lo":0.06,"q1":0.07,"md":0.07,"q3":0.08,"hi":0.08},
{"e":181,"lo":0.06,"q1":0.07,"md":0.08,"q3":0.08,"hi":0.08},
{"e":182,"lo":0.06,"q1":0.07,"md":0.07,"q3":0.08,"hi":0.08},
{"e":183,"lo":0.06,"q1":0.07,"md":0.08,"q3":0.08,"hi":0.08},
{"e":184,"lo":0.06,"q1":0.07,"md":0.07,"q3":0.08,"hi":0.08},
{"e":185,"lo":0.06,"q1":0.07,"md":0.08,"q3":0.08,"hi":0.08},
{"e":186,"lo":0.06,"q1":0.07,"md":0.07,"q3":0.08,"hi":0.08},
{"e":187,"lo":0.06,"q1":0.07,"md":0.08,"q3":0.08,"hi":0.08},
{"e":188,"lo":0.07,"q1":0.07,"md":0.07,"q3":0.08,"hi":0.08},
{"e":189,"lo":0.06,"q1":0.07,"md":0.07,"q3":0.08,"hi":0.08},
{"e":190,"lo":0.06,"q1":0.07,"md":0.07,"q3":0.08,"hi":0.08},
{"e":191,"lo":0.06,"q1":0.07,"md":0.08,"q3":0.08,"hi":0.08},
{"e":192,"lo":0.06,"q1":0.07,"md":0.08,"q3":0.08,"hi":0.08},
{"e":193,"lo":0.07,"q1":0.07,"md":0.07,"q3":0.08,"hi":0.08},
{"e":194,"lo":0.07,"q1":0.07,"md":0.07,"q3":0.08,"hi":0.09},
{"e":195,"lo":0.07,"q1":0.07,"md":0.07,"q3":0.08,"hi":0.08},
{"e":196,"lo":0.07,"q1":0.07,"md":0.07,"q3":0.08,"hi":0.08},
{"e":197,"lo":0.07,"q1":0.07,"md":0.07,"q3":0.08,"hi":0.08},
{"e":198,"lo":0.06,"q1":0.07,"md":0.07,"q3":0.08,"hi":0.08},
{"e":199,"lo":0.06,"q1":0.07,"md":0.07,"q3":0.08,"hi":0.08},
{"e":200,"lo":0.07,"q1":0.07,"md":0.07,"q3":0.08,"hi":0.09,"o":0.06}
]
},
"hconcat": [
{"spacing": 0, "bounds": "flush", "vconcat": [
 {"width": 515, "height": 44, "data": {"name": "strA"},
  "layer": [
   {"mark": {"type": "rect", "fill": "#f2f2f2", "stroke": "black", "strokeWidth": 1},
    "encoding": {"y": {"field": "lev", "type": "ordinal", "axis": null, "scale": {"paddingInner": 0, "paddingOuter": 0}}}},
   {"mark": {"type": "text", "fontSize": 12, "font": "Liberation Sans", "color": "black", "baseline": "middle"},
    "encoding": {"y": {"field": "lev", "type": "ordinal", "axis": null}, "text": {"field": "t"}}},
   {"data": {"name": "a"}, "mark": {"type": "point", "opacity": 0},
    "encoding": {"x": {"field": "md", "type": "quantitative", "scale": {"domain": [0.058, 0.092], "nice": false, "zero": false},
      "axis": {"orient": "top", "values": [0.06, 0.065, 0.07, 0.075, 0.08, 0.085, 0.09], "format": ".3f", "labelOpacity": 0, "tickSize": 7, "labelPadding": 2, "grid": false, "title": null}}}}
  ]},
 {"width": 515, "height": 256, "data": {"name": "a"},
  "encoding": {"y": {"field": "e", "type": "quantitative", "scale": {"domain": [0, 200], "nice": false, "zero": false},
     "axis": {"orient": "left", "values": [10,20,30,40,50,60,70,80,90,100,110,120,130,140,150,160,170,180,190,200], "tickSize": 3, "labelPadding": 2, "titlePadding": 9, "grid": false, "title": "event number"}}},
  "layer": [
   {"mark": {"type": "rule", "color": "#3a93cf", "strokeWidth": 1, "strokeDash": [4, 3]},
    "encoding": {"x": {"field": "lo", "type": "quantitative", "scale": {"domain": [0.058, 0.092], "nice": false, "zero": false},
      "axis": {"orient": "bottom", "values": [0.06, 0.065, 0.07, 0.075, 0.08, 0.085, 0.09], "format": ".3f", "tickSize": 7, "labelPadding": 4, "titlePadding": 10, "grid": true, "gridColor": "#e6e6e6", "title": "event processing time (s)"}},
     "x2": {"field": "q1"}}},
   {"mark": {"type": "rule", "color": "#3a93cf", "strokeWidth": 1, "strokeDash": [4, 3]},
    "encoding": {"x": {"field": "q3", "type": "quantitative",
      "axis": {"orient": "bottom", "values": [0.06, 0.065, 0.07, 0.075, 0.08, 0.085, 0.09], "format": ".3f", "tickSize": 7, "labelPadding": 4, "titlePadding": 10, "grid": true, "gridColor": "#e6e6e6", "title": "event processing time (s)"}},
     "x2": {"field": "hi"}}},
   {"mark": {"type": "rule", "color": "#0a6aab", "strokeWidth": 1.2},
    "encoding": {"x": {"field": "q1", "type": "quantitative",
      "axis": {"orient": "bottom", "values": [0.06, 0.065, 0.07, 0.075, 0.08, 0.085, 0.09], "format": ".3f", "tickSize": 7, "labelPadding": 4, "titlePadding": 10, "grid": true, "gridColor": "#e6e6e6", "title": "event processing time (s)"}},
     "x2": {"field": "q3"}}},
   {"mark": {"type": "point", "shape": "circle", "filled": false, "color": "#3a8fc8", "size": 22, "strokeWidth": 1, "opacity": 1},
    "encoding": {"x": {"field": "o", "type": "quantitative",
      "axis": {"orient": "bottom", "values": [0.06, 0.065, 0.07, 0.075, 0.08, 0.085, 0.09], "format": ".3f", "tickSize": 7, "labelPadding": 4, "titlePadding": 10, "grid": true, "gridColor": "#e6e6e6", "title": "event processing time (s)"}}}},
   {"mark": {"type": "circle", "color": "black", "size": 16, "opacity": 1},
    "encoding": {"x": {"field": "md", "type": "quantitative",
      "axis": {"orient": "bottom", "values": [0.06, 0.065, 0.07, 0.075, 0.08, 0.085, 0.09], "format": ".3f", "tickSize": 7, "labelPadding": 4, "titlePadding": 10, "grid": true, "gridColor": "#e6e6e6", "title": "event processing time (s)"}}}}
  ]}
]},
{"spacing": 0, "bounds": "flush", "vconcat": [
 {"width": 515, "height": 44, "data": {"name": "strB"},
  "layer": [
   {"mark": {"type": "rect", "fill": "#f2f2f2", "stroke": "black", "strokeWidth": 1},
    "encoding": {"y": {"field": "lev", "type": "ordinal", "axis": null, "scale": {"paddingInner": 0, "paddingOuter": 0}}}},
   {"mark": {"type": "text", "fontSize": 12, "font": "Liberation Sans", "color": "black", "baseline": "middle"},
    "encoding": {"y": {"field": "lev", "type": "ordinal", "axis": null}, "text": {"field": "t"}}},
   {"data": {"name": "b"}, "mark": {"type": "point", "opacity": 0},
    "encoding": {"x": {"field": "md", "type": "quantitative", "scale": {"domain": [0.058, 0.092], "nice": false, "zero": false},
      "axis": {"orient": "top", "values": [0.06, 0.065, 0.07, 0.075, 0.08, 0.085, 0.09], "format": ".3f", "tickSize": 7, "labelPadding": 2, "grid": false, "title": null}}}}
  ]},
 {"width": 515, "height": 256, "data": {"name": "b"},
  "encoding": {"y": {"field": "e", "type": "quantitative", "scale": {"domain": [0, 200], "nice": false, "zero": false}, "axis": null}},
  "layer": [
   {"mark": {"type": "rule", "color": "#3a93cf", "strokeWidth": 1, "strokeDash": [4, 3]},
    "encoding": {"x": {"field": "lo", "type": "quantitative", "scale": {"domain": [0.058, 0.092], "nice": false, "zero": false},
      "axis": {"orient": "bottom", "values": [0.06, 0.065, 0.07, 0.075, 0.08, 0.085, 0.09], "labels": false, "tickSize": 7, "grid": true, "gridColor": "#e6e6e6", "title": null}},
     "x2": {"field": "q1"}}},
   {"mark": {"type": "rule", "color": "#3a93cf", "strokeWidth": 1, "strokeDash": [4, 3]},
    "encoding": {"x": {"field": "q3", "type": "quantitative",
      "axis": {"orient": "bottom", "values": [0.06, 0.065, 0.07, 0.075, 0.08, 0.085, 0.09], "labels": false, "tickSize": 7, "grid": true, "gridColor": "#e6e6e6", "title": null}},
     "x2": {"field": "hi"}}},
   {"mark": {"type": "rule", "color": "#0a6aab", "strokeWidth": 1.2},
    "encoding": {"x": {"field": "q1", "type": "quantitative",
      "axis": {"orient": "bottom", "values": [0.06, 0.065, 0.07, 0.075, 0.08, 0.085, 0.09], "labels": false, "tickSize": 7, "grid": true, "gridColor": "#e6e6e6", "title": null}},
     "x2": {"field": "q3"}}},
   {"mark": {"type": "point", "shape": "circle", "filled": false, "color": "#3a8fc8", "size": 22, "strokeWidth": 1, "opacity": 1},
    "encoding": {"x": {"field": "o", "type": "quantitative",
      "axis": {"orient": "bottom", "values": [0.06, 0.065, 0.07, 0.075, 0.08, 0.085, 0.09], "labels": false, "tickSize": 7, "grid": true, "gridColor": "#e6e6e6", "title": null}}}},
   {"mark": {"type": "point", "shape": "circle", "filled": false, "color": "#3a8fc8", "size": 22, "strokeWidth": 1, "opacity": 1},
    "encoding": {"x": {"field": "o2", "type": "quantitative",
      "axis": {"orient": "bottom", "values": [0.06, 0.065, 0.07, 0.075, 0.08, 0.085, 0.09], "labels": false, "tickSize": 7, "grid": true, "gridColor": "#e6e6e6", "title": null}}}},
   {"mark": {"type": "circle", "color": "black", "size": 18, "opacity": 1},
    "encoding": {"x": {"field": "md", "type": "quantitative",
      "axis": {"orient": "bottom", "values": [0.06, 0.065, 0.07, 0.075, 0.08, 0.085, 0.09], "labels": false, "tickSize": 7, "grid": true, "gridColor": "#e6e6e6", "title": null}}}}
  ]}
]}
],
"config": {
 "view": {"stroke": "black", "strokeWidth": 1},
 "font": "Liberation Sans",
 "axis": {"labelFont": "Liberation Sans", "labelFontSize": 9, "labelColor": "black", "tickColor": "black", "domain": false, "titleFont": "Liberation Sans", "titleFontSize": 11, "titleFontWeight": "normal", "titleColor": "black"}
}
}
